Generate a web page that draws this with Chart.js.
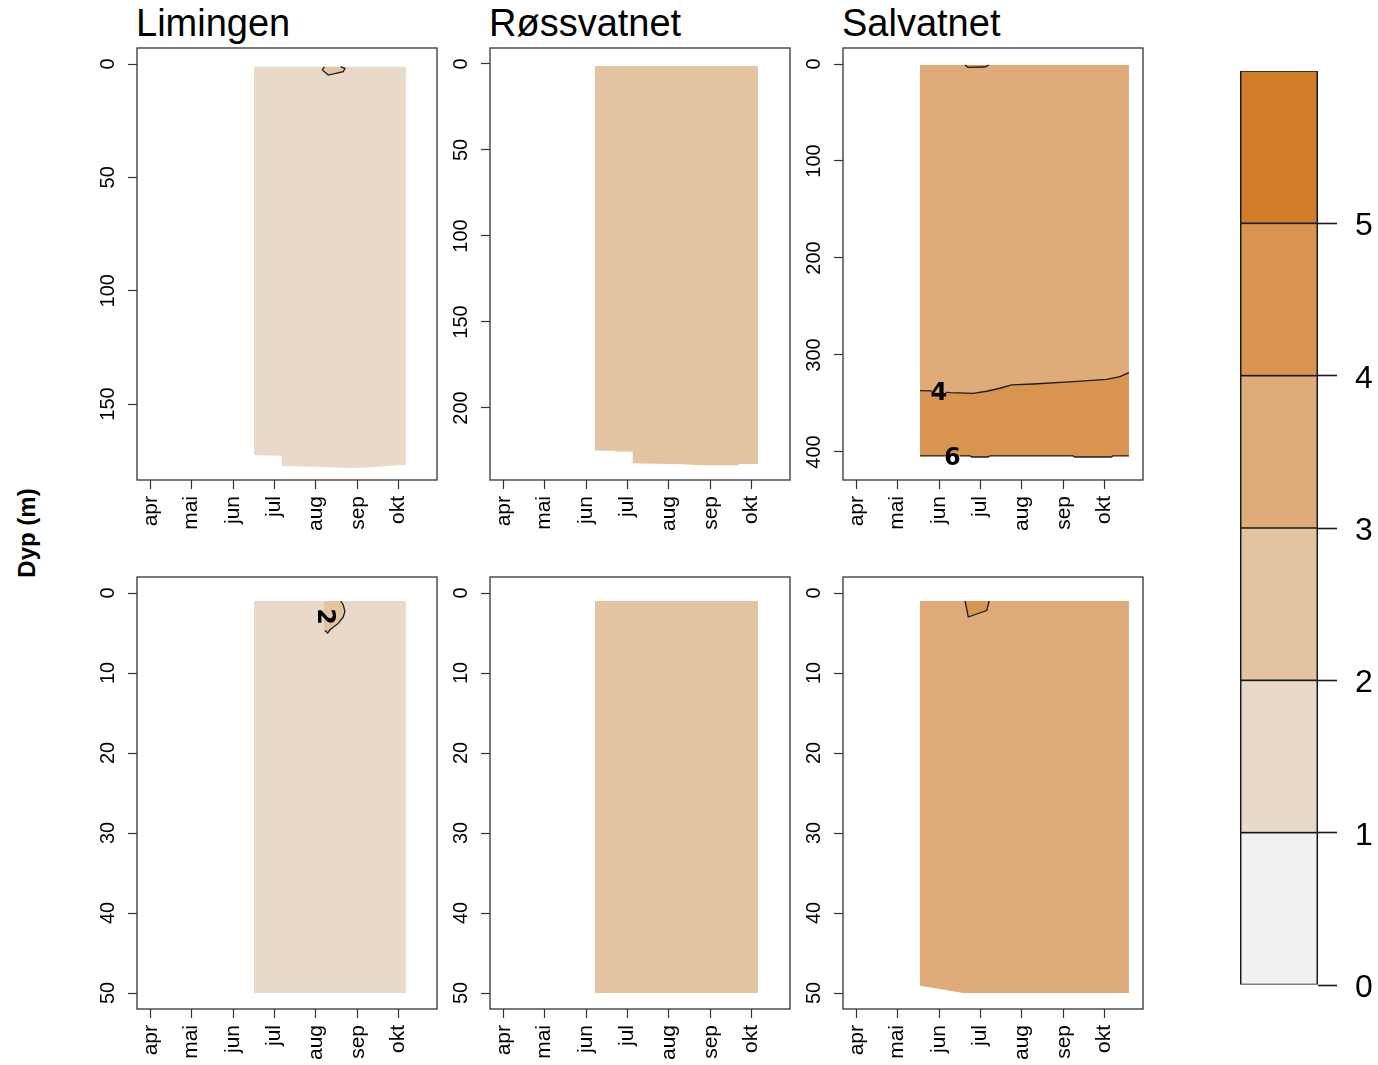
<!DOCTYPE html>
<html>
<head>
<meta charset="utf-8">
<script src="https://cdn.jsdelivr.net/npm/chart.js@4.4.1/dist/chart.umd.min.js"></script>
<style>
  html, body { margin: 0; padding: 0; background: #fff; }
  body { width: 1378px; height: 1065px; position: relative; overflow: hidden;
         font-family: "Liberation Sans", Arial, Helvetica, sans-serif; }
  canvas { position: absolute; }
  .title { position: absolute; top: 1px; font-size: 38px; line-height: 44px; color: #000; white-space: nowrap; }
  #ylab { position: absolute; left: -73px; top: 518px; width: 200px; height: 30px; line-height: 30px;
          text-align: center; font-weight: bold; font-size: 24px; color: #000; transform: rotate(-90deg); }
</style>
</head>
<body>
<div class="title" style="left:136px">Limingen</div>
<div class="title" style="left:489px">Røssvatnet</div>
<div class="title" style="left:842px">Salvatnet</div>
<div id="ylab">Dyp (m)</div>

<canvas id="p0"></canvas>
<canvas id="p1"></canvas>
<canvas id="p2"></canvas>
<canvas id="p3"></canvas>
<canvas id="p4"></canvas>
<canvas id="p5"></canvas>
<canvas id="key"></canvas>

<script>
// ---------- shared axes ----------
// day of year of the first day of each month
const monthDays = [91, 121, 152, 182, 213, 244, 274];
const monthLabels = ['apr', 'mai', 'jun', 'jul', 'aug', 'sep', 'okt'];
const dayAxisRange = [80.67, 302.5];

// class breaks and fill colours, shared by every panel and the colour key
const classBreaks = [0, 1, 2, 3, 4, 5, 6];
const classColors = ['#F1F1F1', '#E9D9C8', '#E4C3A1', '#DFAB79', '#D9944F', '#D17C28'];
const keyTicks = [0, 1, 2, 3, 4, 5];

// depth axes (m)
const limingenDeepRange = [-7.06, 183.5];
const limingenDeepTicks = [0, 50, 100, 150];
const rossvatnetDeepRange = [-9.3, 241.9];
const rossvatnetDeepTicks = [0, 50, 100, 150, 200];
const salvatnetDeepRange = [-16.5, 428.9];
const salvatnetDeepTicks = [0, 100, 200, 300, 400];
const upperRange = [-2, 52];
const upperTicks = [0, 10, 20, 30, 40, 50];

// ---------- Limingen, whole column: [day, depth] ----------
const limingenDeepTop = 1.2;
const limingenDeepBottom = [[167.2, 172.5], [178.0, 172.7], [187.9, 172.8], [187.9, 177.3], [221.0, 177.8],
                            [236.8, 178.2], [250.6, 178.0], [273.0, 177.0], [279.5, 176.9]];
const limingenDeepPatchUpper = [[217.7, 2.6], [219.2, 1.2], [231.3, 1.2], [234.4, 1.9]];
const limingenDeepPatchLower = [[217.7, 2.6], [222.1, 4.9], [233.2, 3.4], [234.4, 1.9]];
const limingenDeepPatchOutline = [[219.2, 1.2], [217.7, 2.6], [222.1, 4.9], [233.2, 3.4], [234.4, 1.9], [231.3, 1.2]];

// ---------- Røssvatnet, whole column ----------
const rossvatnetDeepTop = 1.2;
const rossvatnetDeepBottom = [[158.3, 224.8], [173.1, 224.9], [173.1, 225.4], [186.2, 225.4], [186.2, 232.2],
                              [223.2, 232.7], [236.5, 233.3], [264.6, 233.3], [264.6, 232.6], [278.8, 232.6]];

// ---------- Salvatnet, whole column ----------
const salvatnetDeepTop = 1.0;
const salvatnetDeepIso4 = [[137.6, 336.8], [146.5, 337.0], [156.5, 338.5], [159.8, 338.9], [177.0, 339.5],
                           [186.9, 337.4], [196.7, 334.3], [205.4, 330.9], [221.4, 329.9], [251.0, 327.5],
                           [275.6, 325.1], [285.5, 322.4], [292.1, 318.2]];
const salvatnetDeepBottom = [[137.6, 404.1], [156.0, 404.1], [167.0, 404.1], [174.6, 404.1], [176.0, 405.2],
                             [187.9, 405.2], [189.3, 404.1], [250.7, 404.1], [252.2, 405.2], [278.8, 405.2],
                             [280.3, 404.1], [292.1, 404.1]];
const salvatnetDeepPatch = [[170.9, 1.0], [173.1, 3.4], [185.7, 3.1], [188.6, 1.0]];
const salvatnetDeepLabels = [{day: 151.6, depth: 340.5, text: '4', angle: 0},
                             {day: 161.5, depth: 406.8, text: '6', angle: 0}];

// ---------- upper 50 m ----------
const limingenUpperTop = 1.0;
const limingenUpperBottom = [[167.2, 50], [279.5, 50]];
const limingenUpperPatchUpper = [[219.0, 1.0], [231.3, 1.0], [233.2, 1.5], [234.4, 2.3]];
const limingenUpperPatchLower = [[219.0, 4.6], [221.7, 5.0], [223.4, 4.6], [229.5, 3.8], [233.2, 3.0], [234.4, 2.3]];
const limingenUpperPatchOutline = [[231.3, 1.0], [233.2, 1.5], [234.4, 2.3], [233.2, 3.0], [229.5, 3.8],
                                   [223.4, 4.6], [221.7, 5.0], [219.6, 4.7]];
const limingenUpperLabels = [{day: 219.2, depth: 2.96, text: '2', angle: 90}];

const rossvatnetUpperTop = 1.0;
const rossvatnetUpperBottom = [[158.3, 50], [278.8, 50]];

const salvatnetUpperTop = 1.0;
const salvatnetUpperBottom = [[137.6, 49.1], [169.6, 50], [292.1, 50]];
const salvatnetUpperPatch = [[170.9, 1.0], [173.3, 3.0], [186.9, 2.2], [188.8, 1.0]];

// ---------- drawing helpers ----------
const FONT = '"Liberation Sans", Arial, Helvetica, sans-serif';
const Y_AXIS_W = 70, X_AXIS_H = 70, PAD_TOP = 26, PAD_RIGHT = 10;
const BOX_W = 300, BOX_H = 432;
const TICK_LEN = 9;
const LABEL_CENTER = 28.5;   // distance from the frame to the centre of the depth labels

const pts = list => list.map(([x, y]) => ({x, y}));
function withGap(list, from, to) {
  const out = [];
  let added = false;
  for (const [x, y] of list) {
    if (x > from && x < to) continue;
    if (x >= to && !added) { out.push({x: (from + to) / 2, y: null}); added = true; }
    out.push({x, y});
  }
  return out;
}
function areaSet(list, fill, cls, order) {
  return {data: pts(list), fill, backgroundColor: classColors[cls], borderColor: 'rgba(0,0,0,0)',
          borderWidth: 0, pointRadius: 0, order};
}
function guideSet(list, order) {
  return {data: pts(list), fill: false, borderColor: 'rgba(0,0,0,0)', borderWidth: 0, pointRadius: 0, order};
}
function lineSet(data) {
  return {data, fill: false, borderColor: '#1c1c1c', borderWidth: 1.3, pointRadius: 0, order: 1, spanGaps: false};
}

const framePlugin = {
  id: 'frame',
  afterDraw(chart) {
    const {ctx, chartArea: a} = chart;
    ctx.save();
    ctx.strokeStyle = '#333';
    ctx.lineWidth = 1.3;
    ctx.strokeRect(a.left, a.top, a.right - a.left, a.bottom - a.top);
    ctx.restore();
  }
};

const levelLabelPlugin = {
  id: 'levelLabels',
  afterDatasetsDraw(chart, args, opts) {
    const items = (opts && opts.items) || [];
    const {ctx} = chart;
    const xs = chart.scales.x, ys = chart.scales.y;
    ctx.save();
    ctx.font = 'bold 24px "DejaVu Sans", sans-serif';
    ctx.fillStyle = '#000';
    ctx.textAlign = 'center';
    ctx.textBaseline = 'middle';
    for (const it of items) {
      ctx.save();
      ctx.translate(xs.getPixelForValue(it.day), ys.getPixelForValue(it.depth));
      ctx.rotate(it.angle * Math.PI / 180);
      ctx.fillText(it.text, 0, 0);
      ctx.restore();
    }
    ctx.restore();
  }
};

const measureCtx = document.createElement('canvas').getContext('2d');
function depthLabelPadding(ticks) {
  measureCtx.font = '20px ' + FONT;
  const widest = Math.max(...ticks.map(t => measureCtx.measureText(String(t)).width));
  return LABEL_CENTER - TICK_LEN - widest / 2;
}

function panel(id, left, top, range, ticks, datasets, labels) {
  const canvas = document.getElementById(id);
  canvas.width = Y_AXIS_W + BOX_W + PAD_RIGHT;
  canvas.height = PAD_TOP + BOX_H + X_AXIS_H;
  canvas.style.left = (left - Y_AXIS_W) + 'px';
  canvas.style.top = (top - PAD_TOP) + 'px';
  const grid = {display: true, drawOnChartArea: false, drawTicks: true, tickLength: TICK_LEN,
                tickColor: '#333', tickWidth: 1.2};
  return new Chart(canvas, {
    type: 'line',
    data: {datasets},
    options: {
      responsive: false, animation: false, events: [],
      layout: {padding: {top: PAD_TOP, right: PAD_RIGHT, left: 0, bottom: 0}},
      elements: {point: {radius: 0}, line: {tension: 0}},
      plugins: {legend: {display: false}, tooltip: {enabled: false}, levelLabels: {items: labels || []}},
      scales: {
        x: {
          type: 'linear', min: dayAxisRange[0], max: dayAxisRange[1],
          afterBuildTicks: s => { s.ticks = monthDays.map(v => ({value: v})); },
          afterFit: s => { s.height = X_AXIS_H; },
          grid, border: {display: false},
          ticks: {autoSkip: false, minRotation: 90, maxRotation: 90, padding: 7,
                  font: {family: FONT, size: 21}, color: '#000', callback: (v, i) => monthLabels[i]}
        },
        y: {
          type: 'linear', reverse: true, min: range[0], max: range[1],
          afterBuildTicks: s => { s.ticks = ticks.map(v => ({value: v})); },
          afterFit: s => { s.width = Y_AXIS_W; },
          grid, border: {display: false},
          ticks: {autoSkip: false, minRotation: 90, maxRotation: 90, crossAlign: 'center',
                  padding: depthLabelPadding(ticks), font: {family: FONT, size: 20}, color: '#000',
                  callback: v => String(v)}
        }
      }
    },
    plugins: [framePlugin, levelLabelPlugin]
  });
}

const COL = [137, 490, 843];
const ROW = [48, 577];

// Limingen, whole column
panel('p0', COL[0], ROW[0], limingenDeepRange, limingenDeepTicks, [
  lineSet(pts(limingenDeepPatchOutline)),
  guideSet(limingenDeepPatchUpper, 4),
  areaSet(limingenDeepPatchLower, 1, 2, 5),
  areaSet(limingenDeepBottom, {value: limingenDeepTop}, 1, 10)
]);

// Røssvatnet, whole column
panel('p1', COL[1], ROW[0], rossvatnetDeepRange, rossvatnetDeepTicks, [
  areaSet(rossvatnetDeepBottom, {value: rossvatnetDeepTop}, 2, 10)
]);

// Salvatnet, whole column
panel('p2', COL[2], ROW[0], salvatnetDeepRange, salvatnetDeepTicks, [
  lineSet(withGap(salvatnetDeepIso4, 146.5, 156.5)),
  lineSet(withGap(salvatnetDeepBottom, 156.0, 167.0)),
  lineSet(pts(salvatnetDeepPatch)),
  areaSet(salvatnetDeepPatch, {value: salvatnetDeepTop}, 4, 5),
  areaSet(salvatnetDeepIso4, {value: salvatnetDeepTop}, 3, 8),
  areaSet(salvatnetDeepBottom, 4, 4, 9)
], salvatnetDeepLabels);

// upper 50 m
panel('p3', COL[0], ROW[1], upperRange, upperTicks, [
  lineSet(pts(limingenUpperPatchOutline)),
  guideSet(limingenUpperPatchUpper, 4),
  areaSet(limingenUpperPatchLower, 1, 2, 5),
  areaSet(limingenUpperBottom, {value: limingenUpperTop}, 1, 10)
], limingenUpperLabels);

panel('p4', COL[1], ROW[1], upperRange, upperTicks, [
  areaSet(rossvatnetUpperBottom, {value: rossvatnetUpperTop}, 2, 10)
]);

panel('p5', COL[2], ROW[1], upperRange, upperTicks, [
  lineSet(pts(salvatnetUpperPatch)),
  areaSet(salvatnetUpperPatch, {value: salvatnetUpperTop}, 4, 5),
  areaSet(salvatnetUpperBottom, {value: salvatnetUpperTop}, 3, 10)
]);

// ---------- colour key ----------
(function () {
  const canvas = document.getElementById('key');
  const padTop = 42, padBottom = 42, padLeft = 5, axisW = 60;
  const left = 1240, right = 1318, top = 71, bottom = 985;
  canvas.width = padLeft + (right - left) + axisW;
  canvas.height = padTop + (bottom - top) + padBottom;
  canvas.style.left = (left - padLeft) + 'px';
  canvas.style.top = (top - padTop) + 'px';
  new Chart(canvas, {
    type: 'bar',
    data: {
      labels: [''],
      datasets: classColors.map((c, i) => ({
        data: [[classBreaks[i], classBreaks[i + 1]]],
        backgroundColor: c, borderColor: '#1a1a1a',
        borderWidth: {top: 1.2, bottom: 1.2, left: 1.8, right: 1.8}, borderSkipped: false,
        grouped: false, barPercentage: 1, categoryPercentage: 1
      }))
    },
    options: {
      responsive: false, animation: false, events: [],
      layout: {padding: {top: padTop, bottom: padBottom, left: padLeft, right: 0}},
      plugins: {legend: {display: false}, tooltip: {enabled: false}},
      scales: {
        x: {display: false},
        y: {
          position: 'right', min: classBreaks[0], max: classBreaks[classBreaks.length - 1],
          afterBuildTicks: s => { s.ticks = keyTicks.map(v => ({value: v})); },
          afterFit: s => { s.width = axisW; },
          grid: {display: true, drawOnChartArea: false, drawTicks: true, tickLength: 19,
                 tickColor: '#1a1a1a', tickWidth: 1.6},
          border: {display: false},
          // an empty first line nudges each number a few pixels below its tick, as in the printed key
          ticks: {padding: 18, font: {family: FONT, size: 32, lineHeight: 0.19}, color: '#000',
                  callback: v => ['', String(v)]}
        }
      }
    }
  });
})();
</script>
</body>
</html>
